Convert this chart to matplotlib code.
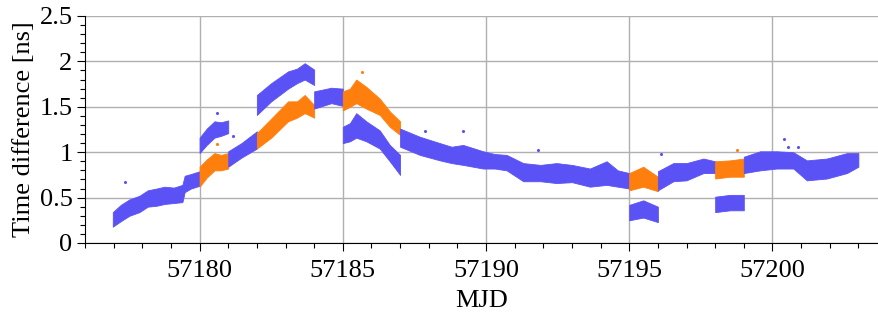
#!/usr/bin/env python3
import matplotlib
matplotlib.use("Agg")
import matplotlib.pyplot as plt
from matplotlib.ticker import MultipleLocator, FuncFormatter

BLUE = "#5a52f5"
ORANGE = "#ff7f0e"

### Data: (MJD, lower edge, upper edge) of each band ###
blue_a_mjd = [57176.97, 57177.25, 57177.55, 57177.9, 57178.19, 57178.5, 57178.78, 57179.1, 57179.4,
              57179.48, 57179.7, 57180.0]
blue_a_lo = [0.18, 0.24, 0.30, 0.34, 0.40, 0.41, 0.43, 0.44, 0.45, 0.56, 0.60, 0.63]
blue_a_hi = [0.34, 0.42, 0.48, 0.52, 0.58, 0.60, 0.62, 0.61, 0.64, 0.74, 0.76, 0.79]

orange_a_mjd = [57180.0, 57180.25, 57180.52, 57180.75, 57181.0]
orange_a_lo = [0.62, 0.72, 0.80, 0.80, 0.82]
orange_a_hi = [0.84, 0.92, 0.99, 0.97, 0.99]

blue_up_a_mjd = [57180.0, 57180.25, 57180.52, 57180.75, 57181.0]
blue_up_a_lo = [0.99, 1.08, 1.16, 1.18, 1.21]
blue_up_a_hi = [1.16, 1.26, 1.34, 1.33, 1.35]

blue_b_mjd = [57181.0, 57181.46, 57182.0]
blue_b_lo = [0.84, 0.94, 1.04]
blue_b_hi = [1.01, 1.10, 1.23]

orange_b_mjd = [57182.0, 57182.5, 57183.09, 57183.4, 57183.67, 57184.0]
orange_b_lo = [1.04, 1.16, 1.34, 1.38, 1.43, 1.38]
orange_b_hi = [1.21, 1.37, 1.56, 1.56, 1.63, 1.52]

blue_up_b_mjd = [57182.0, 57182.5, 57183.09, 57183.4, 57183.67, 57184.0]
blue_up_b_lo = [1.41, 1.56, 1.70, 1.76, 1.80, 1.74]
blue_up_b_hi = [1.63, 1.76, 1.89, 1.92, 1.98, 1.91]

blue_c_mjd = [57184.0, 57184.6, 57185.0]
blue_c_lo = [1.48, 1.54, 1.51]
blue_c_hi = [1.67, 1.71, 1.70]

orange_c_mjd = [57185.0, 57185.25, 57185.47, 57185.82, 57186.29, 57186.64, 57187.0]
orange_c_lo = [1.46, 1.50, 1.54, 1.48, 1.41, 1.28, 1.19]
orange_c_hi = [1.67, 1.70, 1.80, 1.72, 1.59, 1.45, 1.34]

blue_low_c_mjd = [57185.0, 57185.25, 57185.47, 57185.82, 57186.29, 57186.64, 57187.0]
blue_low_c_lo = [1.10, 1.12, 1.16, 1.12, 1.04, 0.90, 0.75]
blue_low_c_hi = [1.28, 1.32, 1.43, 1.34, 1.24, 1.08, 0.97]

blue_d_mjd = [57187.0, 57187.69, 57188.39, 57188.8, 57189.2, 57189.9, 57190.3, 57190.72, 57191.3,
              57191.9, 57192.46, 57193.0, 57193.63, 57194.21, 57194.6, 57195.0]
blue_d_lo = [1.06, 0.97, 0.91, 0.88, 0.86, 0.82, 0.82, 0.80, 0.68,
             0.68, 0.66, 0.67, 0.62, 0.64, 0.62, 0.60]
blue_d_hi = [1.26, 1.17, 1.10, 1.06, 1.08, 1.01, 0.98, 0.97, 0.88,
             0.86, 0.88, 0.86, 0.82, 0.90, 0.80, 0.77]

orange_e_mjd = [57195.0, 57195.49, 57196.0]
orange_e_lo = [0.58, 0.62, 0.57]
orange_e_hi = [0.77, 0.84, 0.73]

blue_low_e_mjd = [57195.0, 57195.49, 57196.0]
blue_low_e_lo = [0.25, 0.28, 0.23]
blue_low_e_hi = [0.42, 0.47, 0.40]

blue_f_mjd = [57196.0, 57196.54, 57197.0, 57197.59, 57198.0]
blue_f_lo = [0.58, 0.68, 0.69, 0.77, 0.77]
blue_f_hi = [0.79, 0.88, 0.88, 0.93, 0.90]

orange_g_mjd = [57198.0, 57198.52, 57199.0]
orange_g_lo = [0.71, 0.73, 0.73]
orange_g_hi = [0.90, 0.91, 0.93]

blue_low_g_mjd = [57198.0, 57198.52, 57199.0]
blue_low_g_lo = [0.34, 0.36, 0.36]
blue_low_g_hi = [0.51, 0.53, 0.53]

blue_h_mjd = [57199.0, 57199.57, 57200.15, 57200.73, 57201.2, 57201.9, 57202.6, 57203.0]
blue_h_lo = [0.77, 0.80, 0.82, 0.82, 0.69, 0.71, 0.77, 0.84]
blue_h_hi = [0.95, 1.01, 1.01, 1.00, 0.91, 0.93, 0.99, 0.99]

# isolated outlier points
blue_out_mjd = [57177.41, 57180.6, 57181.15, 57187.86, 57189.19, 57191.8, 57196.1, 57200.4, 57200.55, 57200.9]
blue_out_val = [0.67, 1.43, 1.18, 1.23, 1.23, 1.02, 0.98, 1.15, 1.06, 1.06]
orange_out_mjd = [57180.6, 57185.66, 57198.76]
orange_out_val = [1.09, 1.88, 1.02]


def main():
    plt.rcParams['font.family'] = ['Liberation Serif', 'DejaVu Serif']
    plt.rcParams['font.size'] = 19

    fig = plt.figure(figsize=(8.79, 3.27), dpi=100)
    ax = fig.add_axes([0.0967, 0.2569, 0.9033, 0.6942])

    bands = [
        (blue_a_mjd, blue_a_lo, blue_a_hi, BLUE),
        (orange_a_mjd, orange_a_lo, orange_a_hi, ORANGE),
        (blue_up_a_mjd, blue_up_a_lo, blue_up_a_hi, BLUE),
        (blue_b_mjd, blue_b_lo, blue_b_hi, BLUE),
        (orange_b_mjd, orange_b_lo, orange_b_hi, ORANGE),
        (blue_up_b_mjd, blue_up_b_lo, blue_up_b_hi, BLUE),
        (blue_c_mjd, blue_c_lo, blue_c_hi, BLUE),
        (orange_c_mjd, orange_c_lo, orange_c_hi, ORANGE),
        (blue_low_c_mjd, blue_low_c_lo, blue_low_c_hi, BLUE),
        (blue_d_mjd, blue_d_lo, blue_d_hi, BLUE),
        (orange_e_mjd, orange_e_lo, orange_e_hi, ORANGE),
        (blue_low_e_mjd, blue_low_e_lo, blue_low_e_hi, BLUE),
        (blue_f_mjd, blue_f_lo, blue_f_hi, BLUE),
        (orange_g_mjd, orange_g_lo, orange_g_hi, ORANGE),
        (blue_low_g_mjd, blue_low_g_lo, blue_low_g_hi, BLUE),
        (blue_h_mjd, blue_h_lo, blue_h_hi, BLUE),
    ]
    for mjd, lo, hi, color in bands:
        ax.fill_between(mjd, lo, hi, color=color, linewidth=0.6, edgecolor=color, zorder=3)

    ax.scatter(blue_out_mjd, blue_out_val, s=5, color=BLUE, linewidths=0, zorder=3)
    ax.scatter(orange_out_mjd, orange_out_val, s=5, color=ORANGE, linewidths=0, zorder=3)

    ax.set_xlim(57176.0, 57203.72)
    ax.set_ylim(0.0, 2.5)
    ax.xaxis.set_major_locator(MultipleLocator(5))
    ax.xaxis.set_minor_locator(MultipleLocator(1))
    ax.yaxis.set_major_locator(MultipleLocator(0.5))
    ax.yaxis.set_minor_locator(MultipleLocator(0.1))
    ax.yaxis.set_major_formatter(FuncFormatter(lambda v, p: f"{v:g}"))
    ax.tick_params(which='major', direction='out', length=6, width=0.8)
    ax.tick_params(axis='x', which='major', pad=6)
    ax.tick_params(axis='y', which='major', pad=3)
    ax.tick_params(which='minor', direction='out', length=3.5, width=0.8)
    ax.grid(True, which='major', color='#b0b0b0', linewidth=1.0, zorder=0)
    ax.set_axisbelow(True)
    for side in ('top', 'right'):
        ax.spines[side].set_visible(False)

    ax.set_xlabel('MJD', labelpad=6)
    ax.set_ylabel('Time difference [ns]', labelpad=3)

    fig.savefig('out.png', dpi=100)


if __name__ == "__main__":
    main()
